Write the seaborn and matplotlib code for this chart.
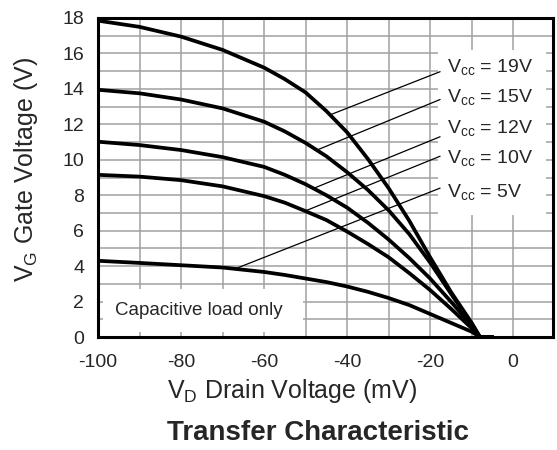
import numpy as np
import pandas as pd
import matplotlib
matplotlib.use("Agg")
import matplotlib.pyplot as plt
from matplotlib.patches import Rectangle
import seaborn as sns

# ---- data ----
drain_mv = [-100, -90, -80, -70, -60, -55, -50, -45, -40, -35, -30, -25, -20, -15, -10, -8, -5]
vg_19 = [17.85, 17.5, 16.95, 16.2, 15.2, 14.55, 13.8, 12.75, 11.55, 10.05, 8.4, 6.55, 4.5, 2.55, 0.8, 0.0, 0.0]
vg_15 = [13.95, 13.75, 13.4, 12.9, 12.15, 11.6, 10.95, 10.2, 9.3, 8.3, 7.15, 5.8, 4.2, 2.45, 0.75, 0.0, 0.0]
vg_12 = [11.02, 10.83, 10.55, 10.15, 9.6, 9.15, 8.62, 8.0, 7.3, 6.45, 5.5, 4.45, 3.3, 2.0, 0.65, 0.0, 0.0]
vg_10 = [9.15, 9.05, 8.85, 8.5, 7.95, 7.58, 7.1, 6.6, 5.95, 5.25, 4.5, 3.6, 2.65, 1.6, 0.5, 0.0, 0.0]
vg_5 = [4.3, 4.18, 4.05, 3.92, 3.67, 3.5, 3.3, 3.1, 2.85, 2.55, 2.2, 1.8, 1.3, 0.8, 0.3, 0.0, 0.0]

series_names = ["19V", "15V", "12V", "10V", "5V"]
series_values = [vg_19, vg_15, vg_12, vg_10, vg_5]
label_texts = [r"V$_{\mathrm{cc}}$ = 19V", r"V$_{\mathrm{cc}}$ = 15V", r"V$_{\mathrm{cc}}$ = 12V",
               r"V$_{\mathrm{cc}}$ = 10V", r"V$_{\mathrm{cc}}$ = 5V"]
pointer_from_x = [-44.1, -47.3, -48.1, -50.1, -67.0]
pointer_to_y = [14.97, 13.4, 11.3, 10.2, 8.4]
label_y = [14.97, 13.28, 11.5, 9.8, 7.92]

x_ticks = [-100, -80, -60, -40, -20, 0]
y_ticks = [0, 2, 4, 6, 8, 10, 12, 14, 16, 18]

rows = []
for name, vals in zip(series_names, series_values):
    for x, y in zip(drain_mv, vals):
        rows.append({"VD": x, "VG": y, "Vcc": name})
df = pd.DataFrame(rows)

# ---- style ----
sns.set_style("white")
plt.rcParams["font.family"] = ["Liberation Sans", "DejaVu Sans"]
plt.rcParams["mathtext.fontset"] = "custom"
plt.rcParams["mathtext.rm"] = "Liberation Sans"
plt.rcParams["mathtext.it"] = "Liberation Sans:italic"
plt.rcParams["mathtext.bf"] = "Liberation Sans:bold"

fig = plt.figure(figsize=(5.57, 4.5), dpi=100)
ax = fig.add_axes([98 / 557, 1 - 337 / 450, (553 - 98) / 557, (337 - 18) / 450])

sns.lineplot(data=df, x="VD", y="VG", hue="Vcc", palette=["black"] * 5,
             linewidth=2.7, legend=False, ax=ax, zorder=3, sort=False)
for ln in ax.lines:
    ln.set_solid_joinstyle("round")

ax.set_xlim(-100, 9.6)
ax.set_ylim(0, 18)
ax.set_xticks(x_ticks)
ax.set_xticks(np.arange(-100, 10, 10), minor=True)
ax.set_yticks(y_ticks)
ax.set_yticks(np.arange(0, 19, 1), minor=True)
ax.set_xticklabels([str(t) for t in x_ticks])
ax.grid(True, which="both", color="#a0a0a0", linewidth=1.1)
ax.set_axisbelow(True)
ax.tick_params(which="both", length=0)
ax.tick_params(axis="x", pad=12, labelsize=14)
ax.tick_params(axis="y", pad=10, labelsize=14)
for sp in ax.spines.values():
    sp.set_visible(True)
    sp.set_color("black")
    sp.set_linewidth(2.2)

# white boxes over the grid
ax.add_patch(Rectangle((0.011, 0.016), 0.44, 0.135, transform=ax.transAxes,
                       facecolor="white", edgecolor="none", zorder=1))
box_x0 = (-18 + 100) / 109.6
ax.add_patch(Rectangle((box_x0, 6.9 / 18), 0.985 - box_x0, (16.2 - 6.9) / 18,
                       transform=ax.transAxes, facecolor="white", edgecolor="none", zorder=1))

# pointer lines and labels
for vals, px, py_end, ly, txt in zip(series_values, pointer_from_x, pointer_to_y, label_y, label_texts):
    py = np.interp(px, drain_mv, vals)
    ax.plot([px, -17.6], [py, py_end], color="black", linewidth=0.9, zorder=2)
    ax.text(-16.0, ly, txt, fontsize=14, ha="left", va="baseline", zorder=4)

ax.text(-96, 1.5, "Capacitive load only", fontsize=13.5, ha="left", va="center", zorder=4)

ax.set_xlabel(r"V$_{\mathrm{D}}$ Drain Voltage (mV)", fontsize=18)
ax.set_ylabel(r"V$_{\mathrm{G}}$ Gate Voltage (V)", fontsize=18)
ax.xaxis.set_label_coords(0.426, -0.125)
ax.yaxis.set_label_coords(-0.127, 0.525)

fig.text(318 / 557, 1 - 440 / 450, "Transfer Characteristic", fontsize=20, fontweight="bold",
         ha="center", va="baseline")

fig.savefig("out.png", dpi=100)
